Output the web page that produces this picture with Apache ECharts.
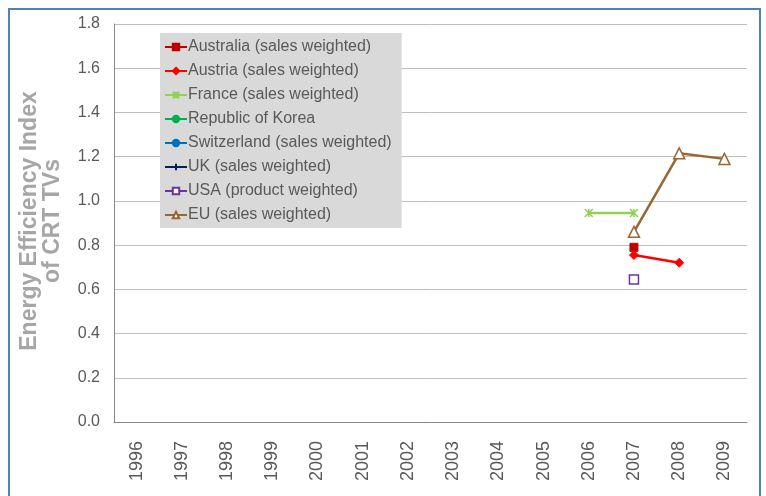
<!DOCTYPE html>
<html>
<head>
<meta charset="utf-8">
<script src="https://cdn.jsdelivr.net/npm/echarts@6/dist/echarts.min.js"></script>
<style>
  html, body { margin: 0; padding: 0; background: #fff; }
  #chart { width: 766px; height: 496px; }
</style>
</head>
<body>
<div id="chart"></div>
<script>
    // categories
    var years = ['1996', '1997', '1998', '1999', '2000', '2001', '2002', '2003', '2004', '2005', '2006', '2007', '2008', '2009'];
    var yTicks = [0, 0.2, 0.4, 0.6, 0.8, 1.0, 1.2, 1.4, 1.6, 1.8];

    // series values (null = no data)
    var australia   = [null, null, null, null, null, null, null, null, null, null, null, 0.79, null, null];
    var austria     = [null, null, null, null, null, null, null, null, null, null, null, 0.755, 0.72, null];
    var france      = [null, null, null, null, null, null, null, null, null, null, 0.945, 0.945, null, null];
    var korea       = [null, null, null, null, null, null, null, null, null, null, null, null, null, null];
    var switzerland = [null, null, null, null, null, null, null, null, null, null, null, null, null, null];
    var uk          = [null, null, null, null, null, null, null, null, null, null, null, null, null, null];
    var usa         = [null, null, null, null, null, null, null, null, null, null, null, 0.645, null, null];
    var eu          = [null, null, null, null, null, null, null, null, null, null, null, 0.86, 1.215, 1.19];

    var font = 'Liberation Sans, Arial, sans-serif';
    var starPath = 'path://M0,0L10,10M10,0L0,10M5,0L5,10';
    var plusPath = 'path://M5,0L5,10M0,5L10,5';

    function makeSeries(name, data, color, symbol, size, extra) {
        var s = {
            name: name,
            type: 'line',
            data: data,
            symbol: symbol,
            symbolSize: size,
            connectNulls: false,
            lineStyle: { color: color, width: 2.5 },
            itemStyle: { color: color, borderColor: color, borderWidth: 1 }
        };
        if (extra) {
            for (var k in extra) s[k] = extra[k];
        }
        return s;
    }

    var chart = echarts.init(document.getElementById('chart'));
    var option = {
        animation: false,
        textStyle: { fontFamily: font },
        graphic: [{
            type: 'rect',
            shape: { x: 9, y: 9, width: 751, height: 600 },
            style: { fill: 'none', stroke: '#4f81bd', lineWidth: 2 },
            z: 100
        }],
        grid: {
            left: 114,
            right: 19,
            top: 24,
            bottom: 74
        },
        legend: {
            orient: 'vertical',
            left: 160,
            top: 33,
            backgroundColor: '#d9d9d9',
            padding: [6, 10, 5, 4],
            itemWidth: 22,
            itemHeight: 8,
            itemGap: 8,
            textStyle: { fontFamily: font, fontSize: 16, lineHeight: 16, color: '#595959', padding: [0, 0, 0, -4] },
            data: ['Australia (sales weighted)', 'Austria (sales weighted)', 'France (sales weighted)',
                'Republic of Korea', 'Switzerland (sales weighted)', 'UK (sales weighted)',
                'USA (product weighted)', 'EU (sales weighted)']
        },
        xAxis: {
            type: 'category',
            data: years,
            boundaryGap: true,
            axisLine: { lineStyle: { color: '#868686', width: 1 } },
            axisTick: { show: false },
            axisLabel: {
                rotate: 90,
                margin: 19,
                fontSize: 18,
                color: '#595959',
                fontFamily: font
            }
        },
        yAxis: {
            type: 'value',
            min: 0,
            max: 1.8,
            interval: 0.2,
            name: 'Energy Efficiency Index\nof CRT TVs',
            nameLocation: 'middle',
            nameRotate: 90,
            nameGap: 50,
            nameTextStyle: {
                fontFamily: font,
                fontSize: 23,
                fontWeight: 'bold',
                color: '#a6a6a6',
                lineHeight: 23,
                padding: [0, 0, 0, 4]
            },
            axisLine: { show: true, lineStyle: { color: '#868686', width: 1 } },
            axisTick: { show: false },
            splitLine: { lineStyle: { color: '#bfbfbf', width: 1 } },
            axisLabel: {
                margin: 14,
                fontSize: 16,
                color: '#595959',
                fontFamily: font,
                formatter: function (v) {
                    return yTicks.indexOf(Math.round(v * 10) / 10) >= 0 ? v.toFixed(1) : '';
                }
            }
        },
        series: [
            makeSeries('Australia (sales weighted)', australia, '#c00000', 'rect', 8),
            makeSeries('Austria (sales weighted)', austria, '#ff0000', 'diamond', 9),
            makeSeries('France (sales weighted)', france, '#92d050', starPath, 8, {
                itemStyle: { color: 'none', borderColor: '#92d050', borderWidth: 1.5 }
            }),
            makeSeries('Republic of Korea', korea, '#00b050', 'none', 6),
            makeSeries('Switzerland (sales weighted)', switzerland, '#0070c0', 'circle', 8),
            makeSeries('UK (sales weighted)', uk, '#002060', plusPath, 9, {
                itemStyle: { color: 'none', borderColor: '#002060', borderWidth: 1.5 }
            }),
            makeSeries('USA (product weighted)', usa, '#7030a0', 'rect', 9, {
                itemStyle: { color: '#ffffff', borderColor: '#7030a0', borderWidth: 1.5 }
            }),
            makeSeries('EU (sales weighted)', eu, '#996633', 'triangle', 11, {
                itemStyle: { color: '#ffffff', borderColor: '#996633', borderWidth: 1.5 }
            })
        ]
    };
    chart.setOption(option);

    window.addEventListener('resize', function () {
        chart.resize();
    });
</script>
</body>
</html>
